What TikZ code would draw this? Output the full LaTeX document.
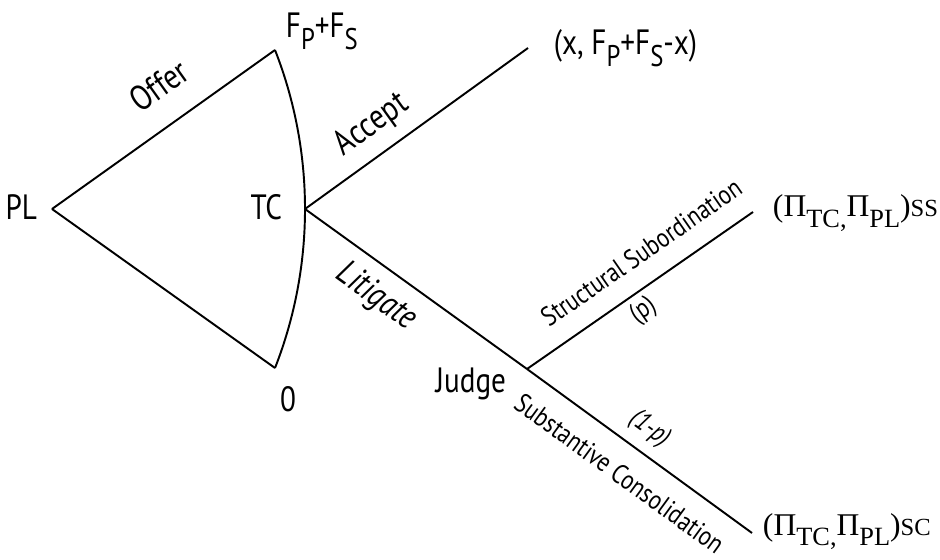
\documentclass[tikz,border=0pt]{standalone}
\usepackage{fontspec}
\setmainfont{PT Sans}[FakeStretch=0.83]
\newfontfamily\payfont{Liberation Serif}
\usepackage{tikz}
\usetikzlibrary{positioning}

\newcommand{\lowsub}[1]{\raisebox{-6.8pt}{\fontsize{17}{17}\selectfont #1}}
\newcommand{\paysub}[1]{\raisebox{-5.7pt}{\fontsize{15}{15}\selectfont #1}}
\newcommand{\payend}[1]{{\fontsize{14}{14}\selectfont #1}}

\tikzset{
  big/.style={font=\fontsize{20}{24}\selectfont, inner sep=0pt},
  small/.style={font=\fontsize{15.5}{18}\selectfont, inner sep=0pt},
  branch/.style={sloped, anchor=center, inner sep=0pt},
  pay/.style={font=\payfont\fontsize{18}{22}\selectfont, inner sep=0pt, anchor=base west},
}

\begin{document}
\begin{tikzpicture}[x=0.02cm, y=-0.02cm, line width=1.1pt]
    \useasboundingbox (0,0) rectangle (940,560);

    % decision points and ends
    \coordinate (PL) at (52,209);
    \coordinate (TC) at (305,209);
    \coordinate (High) at (275,50);
    \coordinate (Low) at (275,368);
    \coordinate (Judge) at (527,369);
    \coordinate (AccEnd) at (528,48);
    \coordinate (SSEnd) at (753,212);
    \coordinate (SCEnd) at (752,533);

    % offer fan of PL
    \draw (PL) -- node[branch, big, pos=0.58, yshift=21.8pt] (offer) {Offer} (High);
    \draw (PL) -- (Low);
    \draw (High) .. controls (315,152) and (315,266) .. (Low);

    % TC accepts or litigates
    \draw (TC) -- node[branch, big, pos=0.376, yshift=16.5pt] (accept) {Accept} (AccEnd);
    \draw (TC) -- node[branch, big, pos=0.40, yshift=-17pt] (litigate) {\itshape Litigate} (Judge);

    % judge rules
    \draw (Judge) -- node[branch, small, pos=0.583, yshift=17.5pt] (struct) {Structural Subordination}
                     node[branch, small, pos=0.468, yshift=-10.5pt] (prob) {(p)} (SSEnd);
    \draw (Judge) -- node[branch, small, pos=0.482, yshift=13.5pt] (oneminus) {\itshape (1-p)}
                     node[branch, small, pos=0.49, yshift=-17pt] (subst) {Substantive Consolidation} (SCEnd);

    % players and values
    \node[big, anchor=east] (plname) at ([shift={(-14,-1.5)}]PL) {PL};
    \node[big, anchor=east] (tcname) at ([shift={(-22,-1.5)}]TC) {TC};
    \node[big, anchor=base east] (judgename) at ([shift={(-20,24)}]Judge) {Judge};
    \node[big, anchor=base west] (fees) at ([shift={(10,-12)}]High) {F\lowsub{P}+F\lowsub{S}};
    \node[big] (zero) at ([shift={(13,31.5)}]Low) {0};

    % payoffs
    \node[big, anchor=base west] (accpay) at ([shift={(25,7)}]AccEnd) {(x, F\lowsub{P}+F\lowsub{S}-x)};
    \node[pay] (sspay) at ([shift={(19,5)}]SSEnd) {(Π\paysub{TC,}Π\paysub{PL})\payend{SS}};
    \node[pay] (scpay) at ([shift={(10,2)}]SCEnd) {(Π\paysub{TC,}Π\paysub{PL})\payend{SC}};
\end{tikzpicture}
\end{document}
